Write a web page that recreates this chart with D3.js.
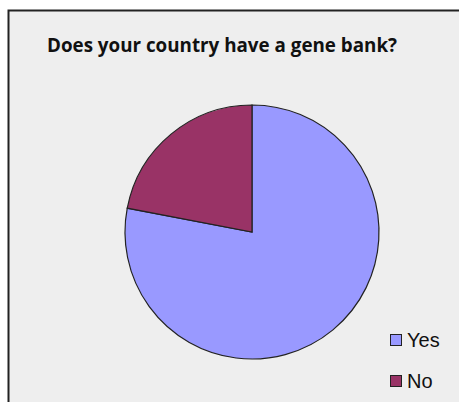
<!DOCTYPE html>
<html>
<head>
<meta charset="utf-8">
<script src="https://cdn.jsdelivr.net/npm/d3@7"></script>
<style>
  html, body { margin: 0; padding: 0; background: #fff; }
</style>
</head>
<body>
<svg id="chart" width="459" height="402"></svg>
<script>
const categories = ["Yes", "No"];
const values = [78, 22];
const colors = ["#9999FF", "#993366"];

const svg = d3.select("#chart");

// chart area frame
svg.append("rect").attr("x", 8.5).attr("y", 10.5).attr("width", 470).attr("height", 420)
  .attr("fill", "#EEEEEE").attr("stroke", "#222").attr("stroke-width", 2);

svg.append("text").attr("x", 47).attr("y", 52)
  .attr("font-family", "'Open Sans', sans-serif")
  .attr("font-weight", "bold").attr("font-size", 19).attr("fill", "#111")
  .attr("textLength", 350).attr("lengthAdjust", "spacingAndGlyphs")
  .text("Does your country have a gene bank?");

const cx = 252, cy = 232, r = 127;
const pie = d3.pie().sort(null).value(d => d);
const arc = d3.arc().innerRadius(0).outerRadius(r);

svg.append("g").attr("transform", `translate(${cx},${cy})`)
  .selectAll("path").data(pie(values)).join("path")
  .attr("d", arc)
  .attr("fill", (d, i) => colors[i])
  .attr("stroke", "#222").attr("stroke-width", 1.2);

const lg = svg.append("g").attr("transform", "translate(390,334)");
categories.forEach((c, i) => {
  lg.append("rect").attr("x", 0.5).attr("y", i * 41 + 0.5).attr("width", 11).attr("height", 11)
    .attr("fill", colors[i]).attr("stroke", "#222").attr("stroke-width", 1);
  lg.append("text").attr("x", 17).attr("y", i * 41 + 13)
    .attr("font-family", "'Liberation Sans', Arial, sans-serif")
    .attr("font-size", 20).attr("fill", "#111").text(c);
});
</script>
</body>
</html>
